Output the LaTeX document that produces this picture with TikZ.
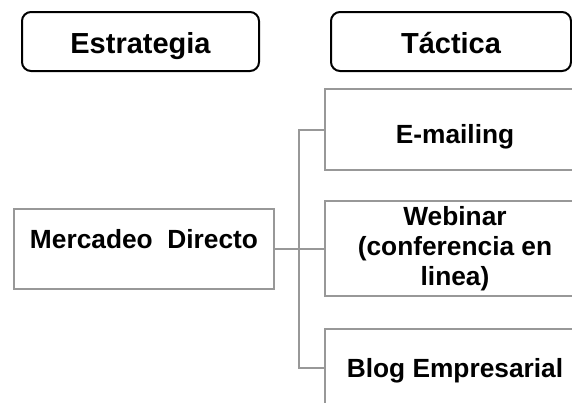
\documentclass[tikz,border=0pt]{standalone}
\usepackage{fontspec}
\setmainfont{Liberation Sans}
\definecolor{lineGray}{RGB}{152,152,152}
\tikzset{
  headbox/.style={draw=black, line width=2pt, rounded corners=9pt, inner sep=0pt,
    minimum height=59pt, text height=23pt, text depth=0pt,
    font=\bfseries\fontsize{29}{34}\selectfont},
  itembox/.style={draw=lineGray, line width=2pt, inner sep=0pt, align=center,
    font=\bfseries\fontsize{26.3}{30}\selectfont},
  link/.style={draw=lineGray, line width=2pt}
}
\begin{document}
\begin{tikzpicture}[x=1pt,y=-1pt]
  \useasboundingbox (0,0) rectangle (572,402);
  \clip (0,0) rectangle (572,402);

  % column headers
  \node[headbox, minimum width=237pt] (estr) at (140.5,41.5) {Estrategia};
  \node[headbox, minimum width=240pt] (tact) at (451,41.5) {Táctica};

  % strategy and tactics
  \node[itembox, minimum width=260pt, minimum height=80pt,
        text height=19pt, text depth=21pt] (merc) at (144,249) {Mercadeo\ \ Directo};
  \node[itembox, minimum width=260pt, minimum height=81pt,
        text height=27pt, text depth=0pt] (mail) at (455,129.5) {E-mailing};
  \node[itembox, minimum width=260pt, minimum height=95pt] (web) at (455,248.5) {Webinar\\(conferencia en\\linea)};
  \node[itembox, minimum width=260pt, minimum height=78pt,
        text height=19pt, text depth=1pt] (blog) at (455,368) {Blog Empresarial};

  % tree connectors
  \coordinate (trunk) at (299,0);
  \draw[link] (merc.east) -- (merc.east -| web.west);
  \draw[link] (mail.west) -- (mail.west -| trunk) -- (blog.west -| trunk) -- (blog.west);
\end{tikzpicture}
\end{document}
